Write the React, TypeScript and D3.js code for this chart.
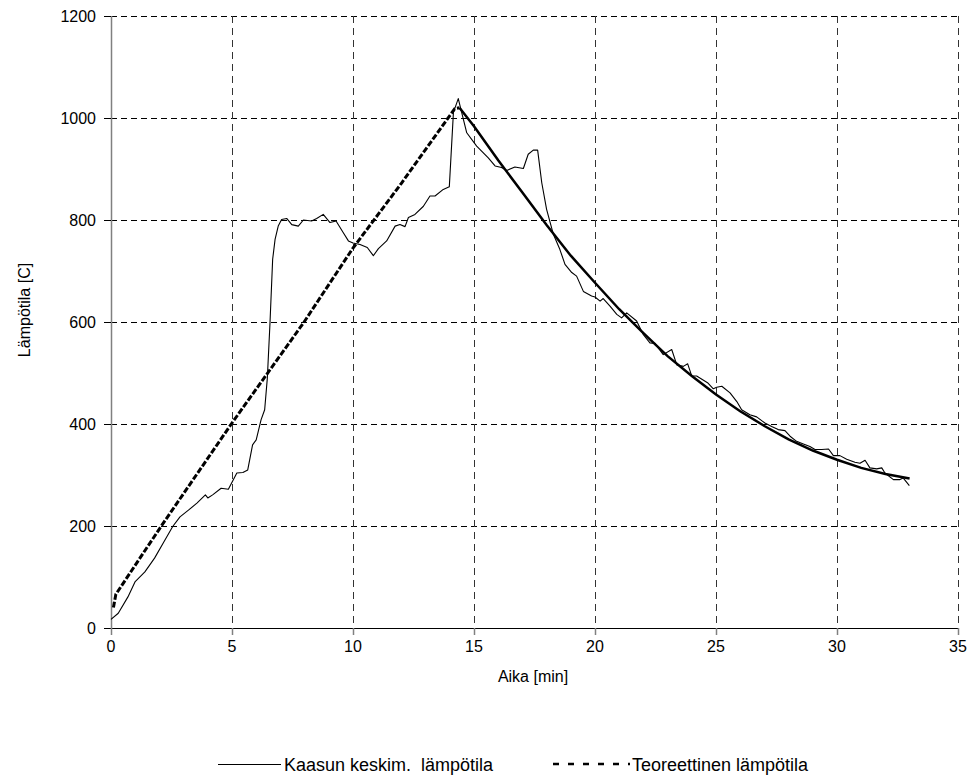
import React from "react";
import * as d3 from "d3";

// Measured gas average temperature (Kaasun keskim. lämpötila)
const measuredTime = [
  0.0, 0.3, 0.7, 1.0, 1.4, 1.8, 2.2, 2.55, 2.85, 3.2, 3.55, 3.9, 4.0, 4.2, 4.55, 4.85,
  5.2, 5.45, 5.65, 5.85, 6.0, 6.2, 6.35, 6.46, 6.57, 6.68, 6.78, 6.91, 7.05, 7.26, 7.47,
  7.74, 7.95, 8.29, 8.5, 8.77, 9.05, 9.3, 9.6, 9.81, 10.0, 10.29, 10.59, 10.84, 11.05,
  11.39, 11.74, 11.94, 12.15, 12.29, 12.56, 12.91, 13.18, 13.39, 13.73, 13.98, 14.15,
  14.35, 14.49, 14.7, 15.11, 15.59, 15.87, 16.14, 16.35, 16.69, 17.04, 17.24, 17.45,
  17.63, 17.8, 18.0, 18.28, 18.55, 18.76, 19.04, 19.24, 19.52, 19.86, 20.0, 20.21, 20.34,
  20.62, 20.9, 21.1, 21.31, 21.72, 22.0, 22.27, 22.48, 22.82, 23.17, 23.38, 23.65, 23.83,
  24.0, 24.2, 24.65, 24.89, 25.03, 25.24, 25.58, 25.86, 26.06, 26.4, 26.68, 27.02, 27.3,
  27.57, 27.85, 28.06, 28.33, 28.61, 28.88, 29.09, 29.37, 29.65, 29.85, 30.12, 30.4,
  30.74, 30.95, 31.16, 31.36, 31.64, 31.85, 31.98, 32.33, 32.6, 32.74, 32.99,
];
const measuredTemp = [
  17, 29, 61, 91, 110, 137, 170, 199, 218, 231, 245, 261, 255, 261, 274, 272,
  304, 305, 310, 359, 369, 408, 428, 490, 598, 723, 762, 788, 801, 803, 791,
  788, 800, 798, 803, 811, 795, 798, 775, 759, 755, 752, 746, 730, 744,
  759, 788, 791, 787, 805, 811, 827, 847, 847, 860, 865, 1011,
  1038, 1011, 971, 945, 922, 906, 903, 897, 904, 901, 929, 937,
  937, 873, 821, 772, 742, 713, 697, 690, 660, 651, 649, 641, 646,
  631, 615, 608, 618, 602, 575, 559, 558, 536, 546, 516, 513, 518,
  494, 494, 481, 469, 472, 474, 461, 444, 428, 418, 414, 402, 395,
  389, 387, 376, 366, 361, 356, 350, 350, 351, 338, 338, 331,
  325, 323, 329, 314, 312, 314, 304, 291, 291, 294, 279,
];

// Theoretical temperature (Teoreettinen lämpötila)
const theoryTime = [
  0.1, 0.2, 2.08, 5.0, 6.43, 7.95, 10.0, 12.0, 14.2, 14.4,
  15, 16, 17, 18, 19, 20, 21, 22, 23, 24, 25, 26, 27, 28, 29, 30, 31, 32, 33,
];
const theoryTemp = [
  40, 66, 200, 402, 497, 598, 745, 872, 1018, 1020,
  984, 917, 854, 790, 730, 677, 625, 578, 533, 494, 458, 425, 396, 370, 348, 330, 314, 302, 293,
];

const xTicks = [0, 5, 10, 15, 20, 25, 30, 35];
const yTicks = [0, 200, 400, 600, 800, 1000, 1200];

const xLabel = "Aika [min]";
const yLabel = "Lämpötila [C]";
const legendMeasured = "Kaasun keskim.  lämpötila";
const legendTheory = "Teoreettinen lämpötila";

export default function App() {
  const W = 971;
  const H = 776;
  const x = d3.scaleLinear().domain([0, 35]).range([111, 958]);
  const y = d3.scaleLinear().domain([0, 1200]).range([628, 16]);
  const font = "Arial, 'Liberation Sans', sans-serif";

  const measured = measuredTime.map((t, i) => [t, measuredTemp[i]] as [number, number]);
  const theory = theoryTime.map((t, i) => [t, theoryTemp[i]] as [number, number]);
  const peakIdx = d3.maxIndex(theoryTemp);
  const rise = theory.slice(0, peakIdx + 1);
  const decay = theory.slice(peakIdx);

  const line = d3
    .line<[number, number]>()
    .x((d) => x(d[0]))
    .y((d) => y(d[1]));

  const px = (v: number) => Math.round(v) + 0.5;

  return (
    <svg
      width={W}
      height={H}
      style={{ position: "absolute", left: 0, top: 0, background: "#fff" }}
      fontFamily={font}
    >
      <rect x={0} y={0} width={W} height={H} fill="#fff" />
      {/* horizontal gridlines */}
      {yTicks.filter((v) => v > 0).map((v) => (
        <line
          key={"hg" + v}
          x1={x(0)}
          x2={x(35)}
          y1={px(y(v))}
          y2={px(y(v))}
          stroke="#000"
          strokeWidth={1}
          strokeDasharray="6,4"
        />
      ))}
      {/* vertical gridlines */}
      {xTicks.filter((v) => v > 0).map((v) => (
        <line
          key={"vg" + v}
          x1={px(x(v))}
          x2={px(x(v))}
          y1={y(1200)}
          y2={y(0)}
          stroke="#333"
          strokeWidth={1}
          strokeDasharray="7,5"
        />
      ))}
      {/* y axis */}
      <line x1={px(x(0))} x2={px(x(0))} y1={y(1200)} y2={y(0)} stroke="#808080" strokeWidth={1.5} />
      {yTicks.map((v) => (
        <g key={"yt" + v}>
          <line x1={x(0) - 7} x2={x(0)} y1={px(y(v))} y2={px(y(v))} stroke="#000" />
          <text x={x(0) - 15} y={y(v) + 6} textAnchor="end" fontSize={16} fill="#000">
            {v}
          </text>
        </g>
      ))}
      {/* x axis */}
      <line x1={x(0)} x2={x(35)} y1={px(y(0))} y2={px(y(0))} stroke="#000" strokeWidth={1} />
      {xTicks.map((v) => (
        <g key={"xt" + v}>
          <line x1={px(x(v))} x2={px(x(v))} y1={y(0)} y2={y(0) + 7} stroke="#808080" strokeWidth={1.5} />
          <text x={x(v)} y={y(0) + 24} textAnchor="middle" fontSize={16} fill="#000">
            {v}
          </text>
        </g>
      ))}
      {/* axis titles */}
      <text x={533} y={682} textAnchor="middle" fontSize={16} fill="#000">
        {xLabel}
      </text>
      <text
        transform={`translate(30, 310) rotate(-90)`}
        textAnchor="middle"
        fontSize={16}
        fill="#000"
      >
        {yLabel}
      </text>
      {/* theoretical */}
      <path d={line(rise) || ""} fill="none" stroke="#000" strokeWidth={3} strokeDasharray="6,2" />
      <path d={line(decay) || ""} fill="none" stroke="#000" strokeWidth={2.5} />
      {/* measured */}
      <path d={line(measured) || ""} fill="none" stroke="#000" strokeWidth={1.1} strokeLinejoin="round" />
      {/* legend */}
      <line x1={218} x2={281} y1={764.5} y2={764.5} stroke="#000" strokeWidth={1} />
      <text x={284} y={771} fontSize={18} fill="#000" style={{ whiteSpace: "pre" }}>
        {legendMeasured}
      </text>
      <line x1={553} x2={630} y1={764} y2={764} stroke="#000" strokeWidth={2.5} strokeDasharray="6,9" />
      <text x={632} y={771} fontSize={18} fill="#000">
        {legendTheory}
      </text>
    </svg>
  );
}
